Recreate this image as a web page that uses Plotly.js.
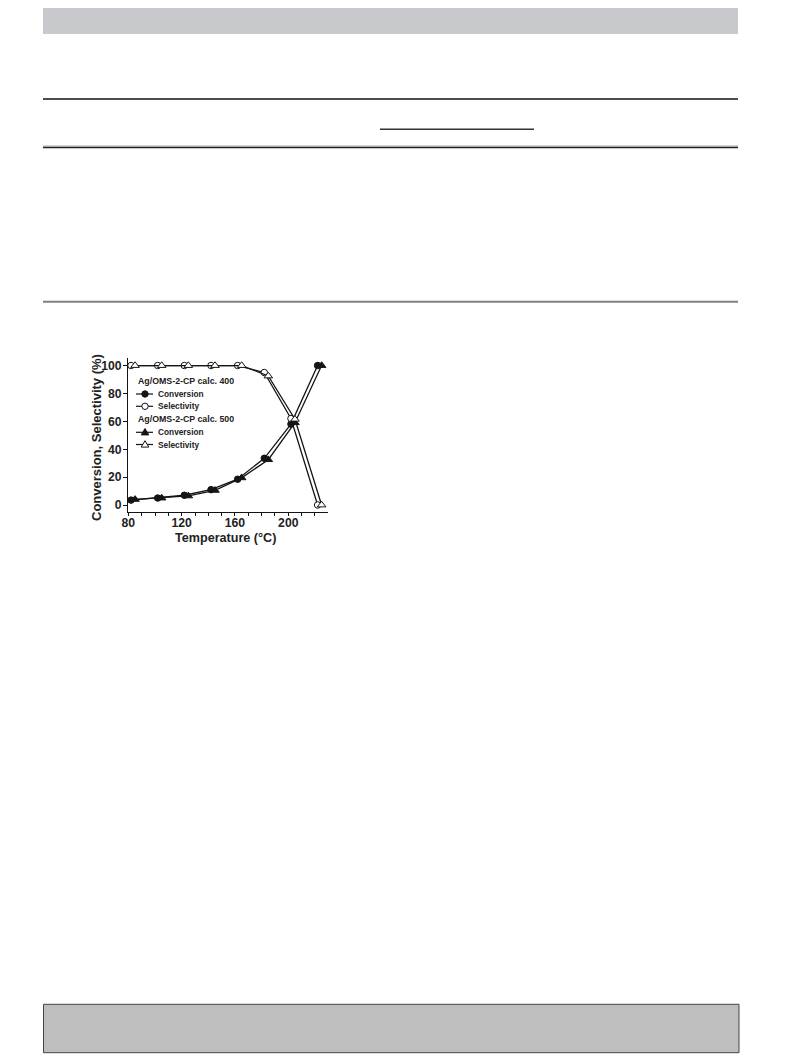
<!DOCTYPE html>
<html><head><meta charset="utf-8">
<script src="https://cdn.plot.ly/plotly-3.0.1.min.js"></script>
<style>html,body{margin:0;padding:0;background:#fff}#chart{width:793px;height:1057px}</style>
</head><body><div id="chart"></div>
<script>
// ---- data ----
const temps400 = [82, 102, 122, 142, 162, 182, 202, 222];
const temps500 = [85, 105, 125, 145, 165, 185, 205, 225];
const conv400  = [3.5, 5, 7, 11, 18.5, 33.5, 58, 100];
const sel400   = [100, 100, 100, 100, 100, 95, 62, 0];
const conv500  = [4, 5, 6.5, 10.5, 19.5, 32.5, 59, 100];
const sel500   = [100, 100, 100, 100, 100, 92.5, 61.5, 0];
const groupTitles = ['Ag/OMS-2-CP calc. 400', 'Ag/OMS-2-CP calc. 500'];
const itemLabels  = ['Conversion', 'Selectivity'];
const xTickVals = [80, 120, 160, 200];
const yTickVals = [0, 20, 40, 60, 80, 100];
const xTitle = 'Temperature (°C)';
const yTitle = 'Conversion, Selectivity (%)';

// ---- helpers ----
const W = 793, H = 1057;
const px = x => x / W, py = y => 1 - y / H;
const FAM = 'Liberation Sans, Arial, sans-serif';
const INK = '#151515';

function trace(x, y, symbol, fill) {
  return {
    x: x, y: y, type: 'scatter', mode: 'lines+markers',
    line: {color: INK, width: 1.3},
    marker: {symbol: symbol, size: symbol.indexOf('triangle') === 0 ? 7.5 : 6.5, color: fill,
             line: {color: INK, width: 1}},
    cliponaxis: false, showlegend: false, hoverinfo: 'skip'
  };
}
const groupSeries = [
  [{symbol: 'circle', fill: INK}, {symbol: 'circle', fill: '#fff'}],
  [{symbol: 'triangle-up', fill: INK}, {symbol: 'triangle-up', fill: '#fff'}]
];
const data = [
  trace(temps400, conv400, 'circle', INK),
  trace(temps400, sel400, 'circle', '#fff'),
  trace(temps500, conv500, 'triangle-up', INK),
  trace(temps500, sel500, 'triangle-up', '#fff')
];

// ---- page decorations ----
const shapes = [
  {type: 'rect', xref: 'paper', yref: 'paper', x0: px(43), x1: px(738), y0: py(34), y1: py(8),
   fillcolor: '#c8c9cc', line: {width: 0}, layer: 'below'},
  {type: 'line', xref: 'paper', yref: 'paper', x0: px(43), x1: px(738), y0: py(99), y1: py(99),
   line: {color: '#111', width: 1.5}},
  {type: 'line', xref: 'paper', yref: 'paper', x0: px(380), x1: px(534), y0: py(129.3), y1: py(129.3),
   line: {color: '#333', width: 1.5}},
  {type: 'line', xref: 'paper', yref: 'paper', x0: px(43), x1: px(738), y0: py(146), y1: py(146),
   line: {color: '#aaa', width: 1}},
  {type: 'line', xref: 'paper', yref: 'paper', x0: px(43), x1: px(738), y0: py(147.5), y1: py(147.5),
   line: {color: '#222', width: 1.3}},
  {type: 'line', xref: 'paper', yref: 'paper', x0: px(43), x1: px(738), y0: py(301.7), y1: py(301.7),
   line: {color: '#808080', width: 2}},
  {type: 'rect', xref: 'paper', yref: 'paper', x0: px(43.5), x1: px(739), y0: py(1052.7), y1: py(1004.3),
   fillcolor: '#bebebe', line: {color: '#444', width: 1}, layer: 'below'}
];

// ---- axis titles (placed as annotations) ----
const titleFont = {family: FAM, size: 12.6, weight: 'bold', color: '#222'};
const annotations = [
  {xref: 'paper', yref: 'paper', x: px(225), y: py(537.5), xanchor: 'center', yanchor: 'middle',
   showarrow: false, text: xTitle, font: titleFont, borderpad: 0},
  {xref: 'paper', yref: 'paper', x: px(96.5), y: py(437.5), xanchor: 'center', yanchor: 'middle',
   showarrow: false, text: yTitle, textangle: -90, font: {family: FAM, size: 13, weight: 'bold', color: '#222'}}
];

// ---- in-plot legend ----
const rowY = [381.5, 394, 406.3, 419.3, 432.3, 444.5];
groupTitles.forEach((g, gi) => {
  annotations.push({xref: 'paper', yref: 'paper', x: px(136), y: py(rowY[gi * 3]),
    xanchor: 'left', yanchor: 'middle', showarrow: false, text: g,
    font: {family: FAM, size: 8.8, weight: 'bold', color: '#222'}});
  itemLabels.forEach((lab, ii) => {
    const yy = py(rowY[gi * 3 + 1 + ii]);
    shapes.push({type: 'line', xref: 'paper', yref: 'paper', x0: px(136), x1: px(153), y0: yy, y1: yy,
      line: {color: INK, width: 1.2}});
    const s = groupSeries[gi][ii];
    if (s.symbol === 'circle') {
      shapes.push({type: 'circle', xref: 'paper', yref: 'paper', xsizemode: 'pixel', ysizemode: 'pixel',
        xanchor: px(145), yanchor: yy, x0: -3.2, x1: 3.2, y0: -3.2, y1: 3.2,
        fillcolor: s.fill, line: {color: INK, width: 1}});
    } else {
      shapes.push({type: 'path', xref: 'paper', yref: 'paper', xsizemode: 'pixel', ysizemode: 'pixel',
        xanchor: px(145), yanchor: yy, path: 'M-3.8,-2.6L3.8,-2.6L0,3.8Z',
        fillcolor: s.fill, line: {color: INK, width: 1}});
    }
    annotations.push({xref: 'paper', yref: 'paper', x: px(155.5), y: yy,
      xanchor: 'left', yanchor: 'middle', showarrow: false, text: lab,
      font: {family: FAM, size: 8.3, weight: 'bold', color: '#222'}});
  });
});

const tickFont = {family: FAM, size: 12.2, weight: 'bold', color: '#222'};

const layout = {
  width: W, height: H,
  margin: {l: 0, r: 0, t: 0, b: 0},
  paper_bgcolor: '#fff', plot_bgcolor: 'rgba(0,0,0,0)',
  showlegend: false,
  xaxis: {
    domain: [px(127.7), px(328)], range: [79.5, 229.8],
    showline: true, linecolor: INK, linewidth: 1.2, mirror: false,
    showgrid: false, zeroline: false,
    tickmode: 'array', tickvals: xTickVals, ticks: 'outside', ticklen: 3.5, tickwidth: 1, tickcolor: INK,
    ticklabelstandoff: -4,
    minor: {dtick: 10, tick0: 80, ticks: 'outside', ticklen: 3, tickwidth: 1, tickcolor: INK, showgrid: false},
    tickfont: tickFont
  },
  yaxis: {
    domain: [py(511.7), py(358)], range: [-4.8, 105.4],
    showline: true, linecolor: INK, linewidth: 1.2, mirror: false,
    showgrid: false, zeroline: false,
    tickmode: 'array', tickvals: yTickVals, ticks: 'outside', ticklen: 3.5, tickwidth: 1, tickcolor: INK,
    ticklabelstandoff: -1,
    tickfont: tickFont
  },
  shapes: shapes,
  annotations: annotations
};

Plotly.newPlot('chart', data, layout, {staticPlot: true, displayModeBar: false});
</script>
</body></html>
